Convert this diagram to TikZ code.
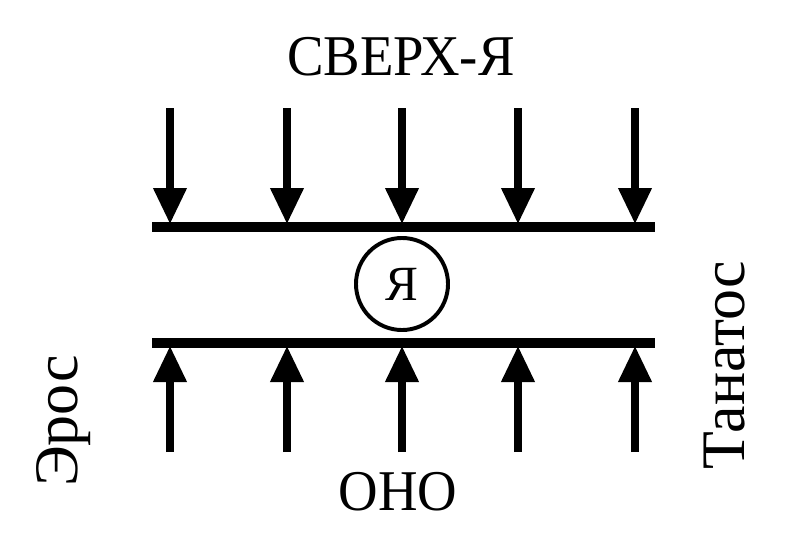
\documentclass[tikz,border=0pt]{standalone}
\usepackage{fontspec}
\setmainfont{Liberation Serif}
\newfontfamily\narrowserif[FakeStretch=0.95]{Liberation Serif}
\usetikzlibrary{arrows.meta}
\tikzstyle{bar} = [draw,line width=7.1pt]
\tikzstyle{push} = [draw,line width=5pt,-{Triangle[width=22.8pt,length=25.6pt]}]
\tikzstyle{ego} = [circle,draw,line width=2.8pt,minimum size=2.3cm,inner sep=0pt,font=\fontsize{35}{35}\selectfont]
\tikzstyle{word} = [inner sep=0pt,font=\narrowserif\fontsize{41}{41}\selectfont]
\tikzstyle{sideword} = [inner sep=0pt,rotate=90,font=\fontsize{44}{44}\selectfont]

\begin{document}
\begin{tikzpicture}[x=0.025cm, y=-0.025cm]
    \useasboundingbox (0,0) rectangle (788,533);
    % Labels round the picture
    \node[word] (sverh) at (401,57) {СВЕРХ-Я};
    \node[word] (ono) at (398,492) {ОНО};
    \node[sideword] (eros) at (64,421) {Эрос};
    \node[sideword] (tanatos) at (725,365) {Танатос};

    % The two bars and the ego between them
    \coordinate (topL) at (152,227);
    \coordinate (topR) at (655,227);
    \coordinate (botL) at (152,343);
    \coordinate (botR) at (655,343);
    \path[bar] (topL) -- (topR);
    \path[bar] (botL) -- (botR);
    \node[ego] (ya) at (402,284) {Я};

    % Pressure from above and from below
    \foreach \x/\i in {170/1,287/2,402/3,518/4,635/5}
    {
        \coordinate (up\i) at (\x,108);
        \coordinate (upend\i) at (\x,224);
        \coordinate (down\i) at (\x,452);
        \coordinate (downend\i) at (\x,346);
        \path[push] (up\i) -- (upend\i);
        \path[push] (down\i) -- (downend\i);
    }
\end{tikzpicture}
\end{document}
